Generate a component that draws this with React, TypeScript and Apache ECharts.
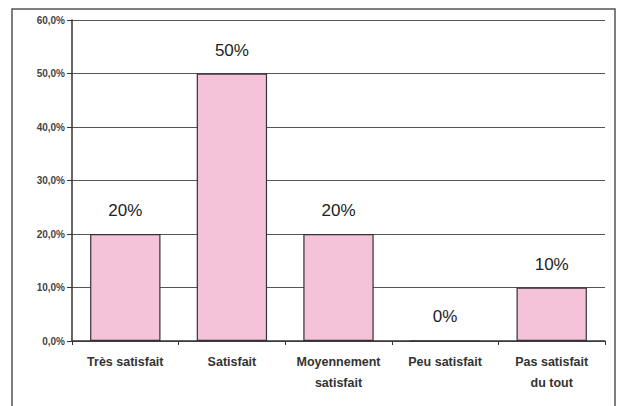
import React, { useEffect, useRef } from "react";
import * as echarts from "echarts";

const categories = ["Très satisfait", "Satisfait", "Moyennement\nsatisfait", "Peu satisfait", "Pas satisfait\ndu tout"];
const values = [20, 50, 20, 0, 10];
const yMin = 0;
const yMax = 60;
const yInterval = 10;

export default function App() {
  const ref = useRef<HTMLDivElement>(null);
  useEffect(() => {
    document.body.style.margin = "0";
    const chart = echarts.init(ref.current!, null, { renderer: "svg" });
    chart.setOption({
      animation: false,
      backgroundColor: "#ffffff",
      graphic: [
        {
          type: "rect",
          shape: { x: 12, y: 9, width: 603, height: 400 },
          style: { fill: "none", stroke: "#555", lineWidth: 1.5 },
          silent: true,
        },
      ],
      grid: { left: 72, right: 18, top: 20, bottom: 65 },
      xAxis: {
        type: "category",
        data: categories,
        axisLine: { lineStyle: { color: "#333", width: 1.5 } },
        axisTick: { show: true, length: 4, lineStyle: { color: "#333" } },
        axisLabel: {
          color: "#333",
          fontFamily: "Arial, Liberation Sans, sans-serif",
          fontSize: 12.5,
          fontWeight: "bold",
          lineHeight: 21,
          margin: 10,
          interval: 0,
        },
      },
      yAxis: {
        type: "value",
        min: yMin,
        max: yMax,
        interval: yInterval,
        axisLine: { show: true, lineStyle: { color: "#333", width: 1.5 } },
        axisTick: { show: true, length: 5, lineStyle: { color: "#333" } },
        splitLine: { lineStyle: { color: "#555", width: 1 } },
        axisLabel: {
          color: "#444",
          fontFamily: "Arial, Liberation Sans, sans-serif",
          fontSize: 10,
          fontWeight: "bold",
          margin: 7,
          formatter: (v: number) => v.toFixed(1).replace(".", ",") + "%",
        },
      },
      series: [
        {
          type: "bar",
          data: values,
          barCategoryGap: "34%",
          itemStyle: { color: "#f5c3d9", borderColor: "#333", borderWidth: 1.2 },
          label: {
            show: true,
            position: "top",
            distance: 15,
            color: "#222",
            fontFamily: "Arial, Liberation Sans, sans-serif",
            fontSize: 17,
            formatter: (p: any) => p.value + "%",
          },
        },
      ],
    });
    return () => chart.dispose();
  }, []);
  return <div ref={ref} style={{ width: 623, height: 406 }} />;
}
